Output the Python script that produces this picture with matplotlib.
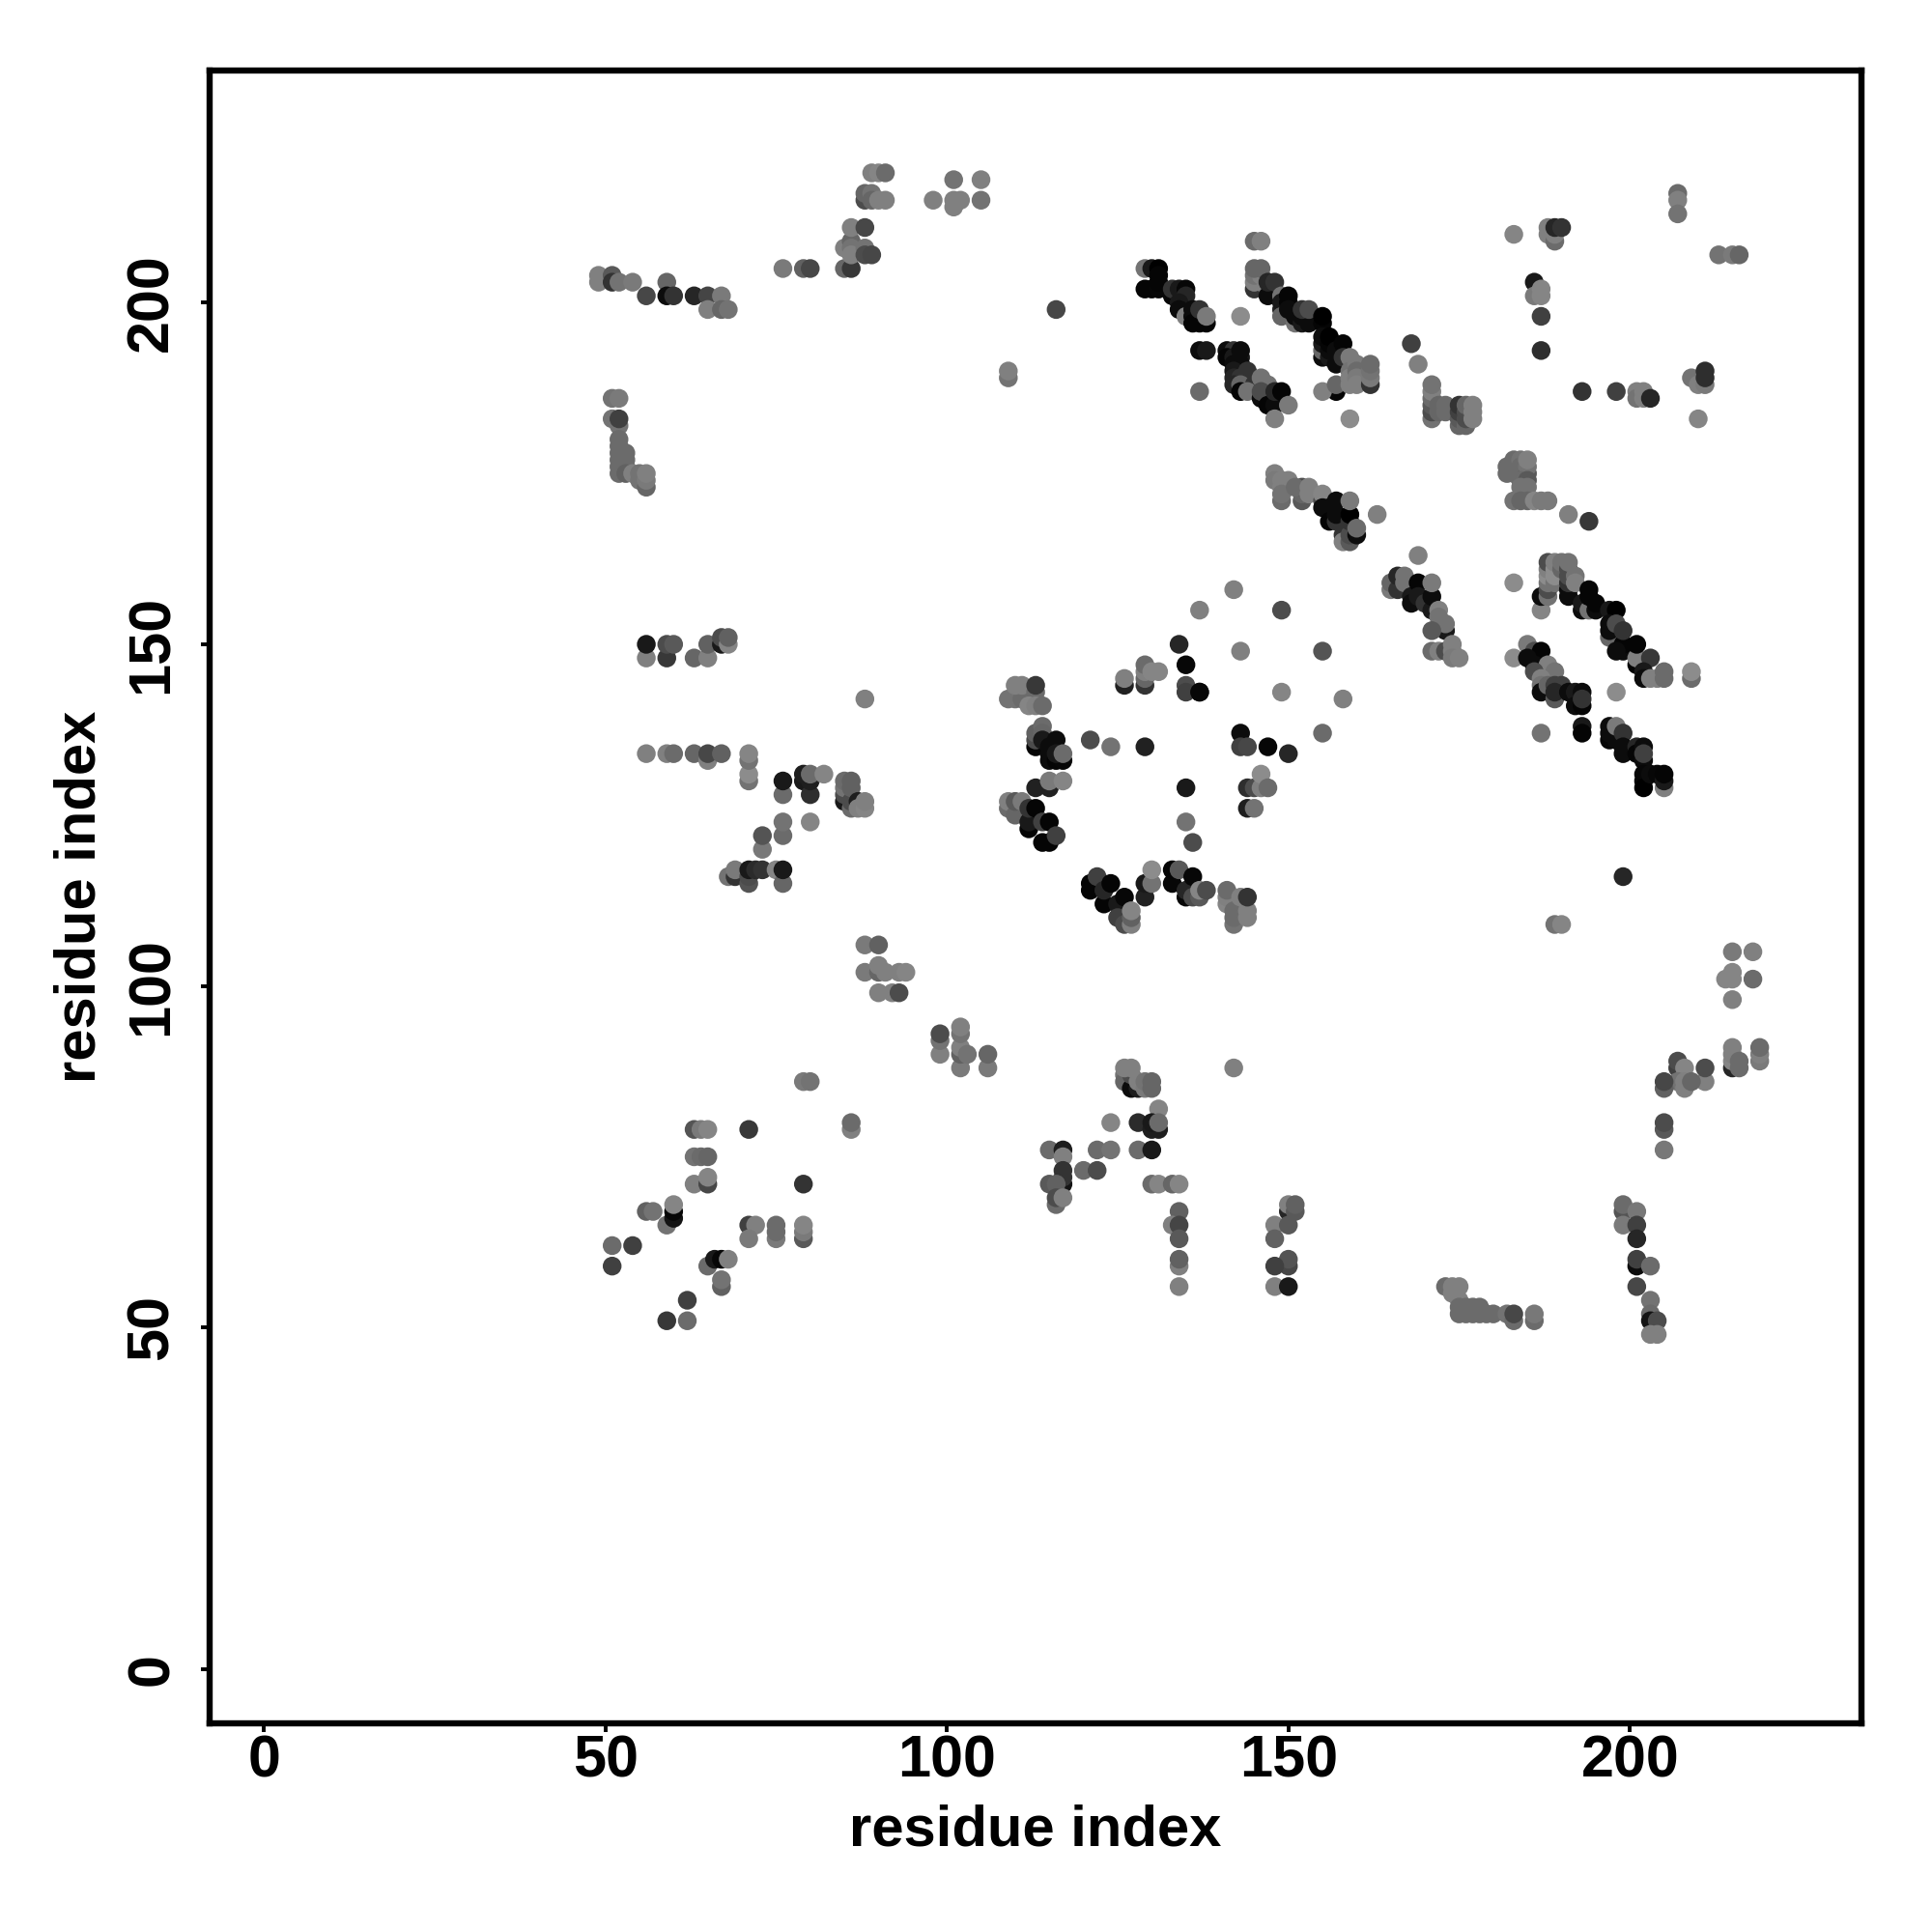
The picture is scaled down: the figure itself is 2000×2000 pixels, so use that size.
import matplotlib
matplotlib.use('Agg')
import matplotlib.pyplot as plt

# contacts as (residue i, residue j, grey level), read region by region
top_left = [
    (49,204,.5),(49,203,.5),(51,204,.35),(51,203,.2),(52,203,.45),(54,203,.48),
    (56,201,.28),(59,203,.4),(59,201,.05),(60,201,.2),(63,201,.15),(65,201,.27),(67,201,.48),
    (65,199,.5),(67,199,.4),(68,199,.45),
    (76,205,.48),(79,205,.38),(80,205,.28),(85,205,.4),(86,205,.22),
    (85,208,.5),(86,209,.4),(86,208,.45),(86,207,.5),(88,208,.45),(88,207,.3),(89,207,.28),
    (86,211,.5),(88,211,.28),
    (88,215,.3),(88,216,.4),(89,216,.45),(89,215,.4),(90,215,.5),(91,215,.5),
    (89,219,.5),(90,219,.52),(91,219,.42),
    (98,215,.5),(101,218,.45),(101,215,.5),(101,214,.5),(102,215,.5),(105,218,.5),(105,215,.45),
    (109,189,.45),(109,190,.5),
    (51,186,.45),(52,186,.48),(51,183,.45),(52,182,.45),(52,183,.25),
    (52,180,.42),(52,179,.42),(52,178,.42),(52,177,.42),(52,176,.42),(52,175,.42),
    (53,178,.42),(53,177,.42),(53,176,.42),(53,175,.38),(54,175,.5),
    (55,175,.45),(55,174,.45),(56,173,.4),(56,174,.48),(56,175,.5),
]

top_middle = [
    (116,199,.28),(129,205,.45),(130,205,.1),(131,205,0),(129,202,.02),(130,202,.02),
    (131,202,.03),(131,204,.02),(131,203,.02),(133,201,.03),(133,202,.2),(134,202,.1),
    (135,202,.03),(135,201,.15),(134,200,.1),(134,199,.05),(135,198,.5),(136,198,.05),
    (136,199,.05),(136,197,.02),(137,197,.02),(138,197,.02),(137,199,.2),(138,198,.48),
    (137,193,.05),(138,193,.1),(137,187,.42),(143,198,.55),
    (141,193,.05),(142,193,.2),(141,192,.02),(142,192,.1),(143,192,.1),(143,193,.05),
    (142,191,.05),(143,191,.05),(142,190,.1),(144,190,.2),(142,189,.15),(143,189,.2),
    (142,188,.15),(143,188,.4),(145,188,.2),(143,187,.02),(144,187,.45),(146,189,.45),
    (147,188,.45),(146,186,.05),(146,187,.3),(147,185,.02),(148,185,.05),(148,187,.15),
    (149,187,.02),(150,185,.48),(148,183,.5),
    (145,209,.42),(146,209,.5),(145,202,.2),(145,203,.5),(146,203,.5),(145,204,.45),
    (146,204,.5),(145,205,.4),(146,205,.4),(147,201,.05),(147,203,.15),(148,203,.2),
    (149,201,.45),(149,199,.15),(149,200,.1),(149,198,.4),(150,201,.02),(150,200,.02),
    (150,199,.05),(151,197,.45),(151,198,.05),(152,197,.1),(152,198,.05),(153,197,.05),
    (153,198,.05),(152,199,.2),(153,199,.3),(155,197,.02),(155,198,0),
    (155,192,.05),(155,193,.4),(155,194,.1),(155,195,.05),(156,192,.1),(156,193,.05),
    (156,194,.02),(156,195,0),(157,191,.05),(157,193,.05),(158,194,.02),(158,192,.2),
    (157,187,.02),(155,187,.5),(157,188,.4),(159,192,.48),(159,190,.45),(159,189,.5),
    (159,188,.5),(160,191,.48),(160,190,.42),(160,189,.48),(160,188,.5),
    (162,188,.2),(162,189,.48),(162,190,.45),(162,191,.42),
    (159,183,.55),(168,194,.25),(169,191,.5),
]

top_right = [
    (207,216,.42),(207,215,.5),(207,213,.45),(213,207,.45),(215,207,.48),(216,207,.4),
    (183,210,.52),(188,211,.5),(188,210,.5),(189,209,.42),(189,210,.5),(189,211,.15),(190,211,.2),
    (186,203,.1),(186,201,.48),(187,202,.52),(187,201,.52),(187,198,.25),(187,193,.18),
    (171,183,.45),(171,184,.3),(171,185,.35),(171,186,.42),(171,187,.5),(171,188,.45),
    (172,185,.4),(172,184,.4),(173,185,.42),(173,184,.42),
    (175,182,.4),(175,183,.35),(175,184,.25),(175,185,.2),(176,182,.4),(176,183,.3),
    (176,184,.3),(176,185,.4),(177,183,.5),(177,184,.5),(177,185,.5),
    (193,187,.2),(198,187,.25),(201,187,.5),(201,186,.45),(202,187,.5),(202,186,.5),(203,186,.15),
    (209,189,.45),(210,188,.5),(210,183,.52),(211,188,.48),(211,189,.18),(211,190,.18),
    (182,176,.42),(182,175,.42),(183,177,.42),(183,176,.42),(183,175,.42),(184,177,.45),
    (184,176,.42),(184,175,.42),(185,175,.35),(185,176,.45),(185,177,.5),
    (184,174,.42),(185,174,.35),(184,173,.45),(185,173,.45),
    (183,171,.45),(184,171,.4),(185,171,.4),(186,171,.52),(187,171,.48),(188,171,.48),
    (191,169,.5),(194,168,.22),
]

middle_diag = [
    (148,175,.5),(148,174,.48),(149,174,.5),(150,174,.5),(149,173,.5),(150,173,.5),
    (149,171,.42),(149,172,.45),(152,171,.35),(152,172,.4),(152,173,.3),(151,173,.42),
    (153,173,.5),(153,172,.5),(155,171,.3),(155,172,.52),(155,170,.05),(156,170,.05),
    (156,168,.02),(157,168,.2),(157,169,.05),(157,171,.05),(158,166,.2),(158,165,.5),
    (159,165,.35),(159,166,.3),(159,168,.2),(159,169,0),(159,171,.48),(160,166,.05),(160,167,.42),
    (163,169,.5),(169,163,.5),
    (165,158,.48),(165,159,.4),(166,158,.2),(166,160,.15),(167,160,.45),(167,159,.45),
    (168,157,.1),(168,156,.05),(169,159,.02),(169,157,.1),(170,156,.2),(171,155,.1),
    (171,157,.05),(171,159,.48),(172,155,.5),(172,154,.45),(173,152,.1),(173,153,.45),
    (171,152,.35),(171,149,.42),(172,149,.5),(173,149,.3),(174,150,.5),(174,149,.5),
    (174,148,.48),(175,148,.5),
]

right_diag = [
    (183,159,.55),(187,155,.52),(187,157,.05),(188,157,.45),
    (188,158,.3),(188,159,.45),(188,160,.55),(188,161,.5),(188,162,.3),
    (189,159,.45),(189,160,.55),(189,161,.55),(189,162,.5),(190,161,.4),(190,162,.45),
    (191,157,.05),(191,158,.05),(191,159,.2),(191,160,.3),(191,161,.3),(191,162,.45),
    (192,160,.45),(192,159,.5),(193,155,.05),(193,156,.1),(194,155,.45),(194,157,.02),
    (194,158,.02),(195,155,.05),(195,156,.02),(197,155,.1),(198,155,0),
    (197,151,.4),(197,152,.05),(197,153,.05),(198,153,.3),(199,149,.05),(199,150,.02),(199,152,.2),
    (198,149,.05),(201,147,.02),(201,148,.5),(201,150,.02),(203,148,.22),
    (202,146,.1),(202,145,.05),(203,145,.5),(204,145,.5),(205,146,.42),(205,145,.42),
    (209,145,.42),(209,146,.55),
    (183,148,.55),(185,150,.48),(186,149,.3),(187,149,.02),(185,148,.05),(186,147,.05),
    (188,147,.5),(186,146,.3),(189,146,.45),(187,145,.5),(187,144,.45),(187,143,.05),
    (188,144,.4),(189,144,.25),(190,144,.25),(189,142,.35),(189,143,.15),(191,143,.05),
    (192,143,.1),(193,143,.05),(192,141,.05),(193,141,.02),(193,142,.2),
    (198,143,.55),(187,137,.45),(193,138,.1),(193,137,.02),
    (197,136,.03),(197,137,.05),(197,138,.05),(198,136,.05),(198,138,.48),(199,137,.2),
    (199,135,.05),(199,134,.05),(201,135,.15),(201,134,.02),(202,135,.05),(202,133,.05),
    (202,134,.25),(202,131,.03),(202,130,.03),(202,129,0),(203,131,.05),(204,131,.03),
    (205,129,.5),(205,130,.1),(205,131,.02),(199,116,.15),
]

center = [
    (142,158,.5),(137,155,.5),(149,155,.3),(143,149,.5),(155,149,.33),(137,143,.03),
    (149,143,.52),(158,142,.5),(155,137,.42),(143,137,.05),(143,135,.25),(144,135,.28),
    (147,135,.03),(150,134,.15),(144,129,.18),(145,129,.3),(146,129,.5),(146,131,.55),
    (147,129,.42),(144,126,.12),(145,126,.45),
    (134,150,.15),(135,147,.03),(135,144,.3),(135,143,.25),(137,143,.03),
    (126,144,.13),(126,145,.5),(129,144,.2),(129,145,.4),(129,146,.5),(129,147,.42),
    (130,146,.52),(131,146,.52),
    (109,142,.45),(110,142,.45),(111,142,.42),(110,144,.5),(111,144,.5),(113,143,.42),
    (113,144,.22),(112,141,.52),(113,141,.5),(114,141,.42),
    (113,135,.02),(113,136,.3),(113,137,.38),(114,138,.42),(114,137,.4),(114,136,.1),
    (115,135,.05),(115,134,.05),(115,133,.05),(116,133,.02),(117,133,.03),(116,136,.05),
    (116,134,.1),(117,134,.42),
    (121,136,.3),(124,135,.45),(129,135,.13),
    (113,129,.13),(115,129,.13),(115,130,.48),(117,130,.52),(135,129,.1),(135,124,.45),(136,121,.3),
    (109,126,.42),(109,127,.5),(110,125,.4),(110,127,.35),(111,127,.48),(112,123,.02),
    (112,124,.1),(112,126,.2),(113,126,.02),(114,121,.02),(115,121,.02),(114,124,.25),
    (115,124,.02),(116,122,.25),
    (121,114,.02),(121,115,.02),(122,116,.25),(123,112,.02),(123,114,.15),(124,115,.02),
    (125,112,.1),(126,113,.03),(125,110,.25),(126,109,.3),(127,109,.5),(127,110,.38),(127,111,.52),
    (129,113,.13),(129,115,.1),(130,115,.45),(130,117,.55),
    (133,115,.03),(133,117,.02),(134,117,.35),(135,113,.03),(135,114,.15),(136,116,.03),
    (136,113,.3),(137,113,.35),(137,114,.52),(138,114,.3),
    (141,112,.52),(141,113,.5),(141,114,.42),(142,109,.45),(142,110,.42),(142,111,.42),
    (144,110,.5),(144,111,.5),(143,113,.5),(144,113,.2),
]

left_middle = [
    (56,148,.5),(56,150,.1),(59,148,.22),(59,150,.3),(60,150,.35),(63,148,.4),(65,148,.5),
    (65,150,.38),(67,150,.1),(67,151,.3),(68,150,.52),(68,151,.38),(88,142,.5),
    (56,134,.5),(59,134,.5),(60,134,.42),(63,134,.4),(65,133,.5),(65,134,.28),(67,134,.38),
    (71,130,.45),(71,131,.55),(71,133,.45),(71,134,.52),
    (76,128,.42),(76,130,.1),(79,130,.1),(79,131,.12),(80,128,.18),(80,130,.12),(80,131,.42),(82,131,.52),
    (85,127,.1),(85,128,.3),(85,129,.45),(85,130,.42),(86,126,.42),(86,127,.3),(86,129,.38),(86,130,.38),
    (87,127,.12),(87,126,.5),(88,126,.52),(88,127,.5),
    (76,122,.42),(76,124,.45),(80,124,.52),(73,120,.47),(73,122,.33),
    (68,116,.45),(69,116,.2),(69,117,.48),(71,115,.33),(71,116,.3),(71,117,.1),(72,117,.17),
    (73,117,.2),(75,117,.52),(76,115,.4),(76,117,.1),
]

bottom_left = [
    (88,106,.48),(90,106,.38),(88,102,.48),(90,102,.4),(90,103,.5),(91,102,.5),(93,102,.5),
    (94,102,.52),(90,99,.5),(92,99,.5),(93,99,.3),
    (99,90,.5),(99,92,.45),(99,93,.3),(102,88,.48),(102,90,.38),(102,91,.5),(102,93,.45),
    (102,94,.5),(103,90,.45),(106,88,.48),(106,90,.4),
    (79,86,.48),(80,86,.45),(86,79,.5),(86,80,.42),
    (63,79,.33),(64,79,.48),(65,79,.52),(71,79,.22),(63,75,.45),(64,75,.42),(65,75,.4),
    (63,71,.5),(65,71,.28),(65,72,.52),(79,71,.2),
    (56,67,.38),(57,67,.45),(59,65,.45),(60,66,.08),(60,67,.03),(60,68,.52),
    (71,65,.25),(72,65,.5),(71,63,.48),(75,63,.48),(75,64,.42),(75,65,.42),
    (79,63,.35),(79,64,.48),(79,65,.52),
    (51,62,.42),(54,62,.25),(51,59,.25),(65,59,.42),(66,60,.1),(67,60,.03),(68,60,.5),
    (67,56,.38),(67,57,.45),(62,54,.25),(59,51,.22),(62,51,.42),
]

bottom_middle = [
    (142,88,.5),(126,87,.45),(126,86,.4),(127,85,.05),(127,87,.3),(126,88,.5),(127,88,.5),
    (128,85,.12),(128,86,.5),(129,85,.48),(129,86,.45),(130,85,.4),(130,86,.4),
    (131,82,.52),(124,80,.52),(128,80,.17),(130,79,.12),(131,79,.12),(130,80,.1),(131,80,.42),
    (115,76,.42),(117,76,.12),(122,76,.42),(124,76,.45),(128,76,.42),(130,76,.1),
    (117,75,.5),(117,71,.08),(117,72,.2),(117,73,.2),(120,73,.42),(122,73,.3),
    (115,71,.35),(116,71,.38),(116,68,.42),(116,69,.3),(117,69,.5),
    (130,71,.42),(131,71,.52),(133,71,.4),(134,71,.52),
    (134,67,.38),(133,65,.5),(134,65,.27),(134,63,.35),(134,59,.5),(134,60,.38),(134,56,.5),
    (150,67,.15),(150,68,.5),(151,67,.35),(151,68,.38),(148,65,.5),(150,65,.35),(148,63,.38),
    (150,59,.28),(150,60,.33),(148,59,.25),(148,56,.5),(150,56,.1),
]

bottom_right = [
    (189,109,.45),(190,109,.52),
    (215,105,.48),(218,105,.5),(215,102,.52),(214,101,.52),(215,101,.52),(218,101,.42),(215,98,.5),
    (215,88,.15),(215,89,.52),(215,90,.5),(215,91,.5),(216,88,.42),(216,89,.42),
    (219,89,.48),(219,90,.5),(219,91,.42),
    (207,88,.25),(207,89,.3),(208,88,.52),(211,86,.5),(211,88,.3),(207,86,.45),(208,85,.5),
    (208,86,.5),(209,86,.4),(205,85,.38),(205,86,.28),
    (205,79,.35),(205,80,.3),(205,76,.47),
    (199,67,.33),(199,68,.42),(201,67,.47),(199,65,.48),(201,65,.25),(201,63,.15),
    (201,59,.05),(201,60,.25),(203,59,.42),(201,56,.28),(203,54,.45),(203,52,.42),
    (203,51,.08),(204,51,.3),(203,49,.5),(204,49,.5),
    (173,56,.42),(174,55,.5),(174,56,.5),(175,56,.5),(175,54,.5),(175,53,.42),(175,52,.42),
    (176,53,.42),(176,52,.42),(177,53,.42),(177,52,.42),(178,53,.42),(178,52,.42),
    (179,52,.42),(180,52,.42),(182,52,.45),(183,51,.42),(183,52,.28),(186,51,.42),(186,52,.47),
]

tick_values = [0, 50, 100, 150, 200]

contacts = (top_left + top_middle + top_right + middle_diag + right_diag
            + center + left_middle + bottom_left + bottom_middle + bottom_right)
res_i = [c[0] for c in contacts]
res_j = [c[1] for c in contacts]
grey = [c[2] for c in contacts]

plt.rcParams['font.family'] = ['Liberation Sans', 'DejaVu Sans']
plt.rcParams['font.weight'] = 'bold'

fig = plt.figure(figsize=(10, 10), dpi=200)
ax = fig.add_axes([216.5 / 2000, 1 - 1783.5 / 2000, 1710.5 / 2000, 1711 / 2000])
ax.scatter(res_i, res_j, c=grey, cmap='gray', vmin=0, vmax=1, s=49, linewidths=0)
ax.set_xlim(-8.0, 233.9)
ax.set_ylim(-7.85, 234.05)
ax.set_xticks(tick_values)
ax.set_yticks(tick_values)
ax.tick_params(length=3.2, width=1.4, labelsize=22)
ax.tick_params(axis='x', pad=1)
ax.tick_params(axis='y', pad=7.5)
plt.setp(ax.get_yticklabels(), rotation=90, va='center')
for s in ax.spines.values():
    s.set_linewidth(2.3)
ax.set_xlabel('residue index', fontsize=21.5, fontweight='bold', labelpad=5.5)
ax.set_ylabel('residue index', fontsize=21.5, fontweight='bold', labelpad=7)
fig.savefig('out.png', dpi=200)
